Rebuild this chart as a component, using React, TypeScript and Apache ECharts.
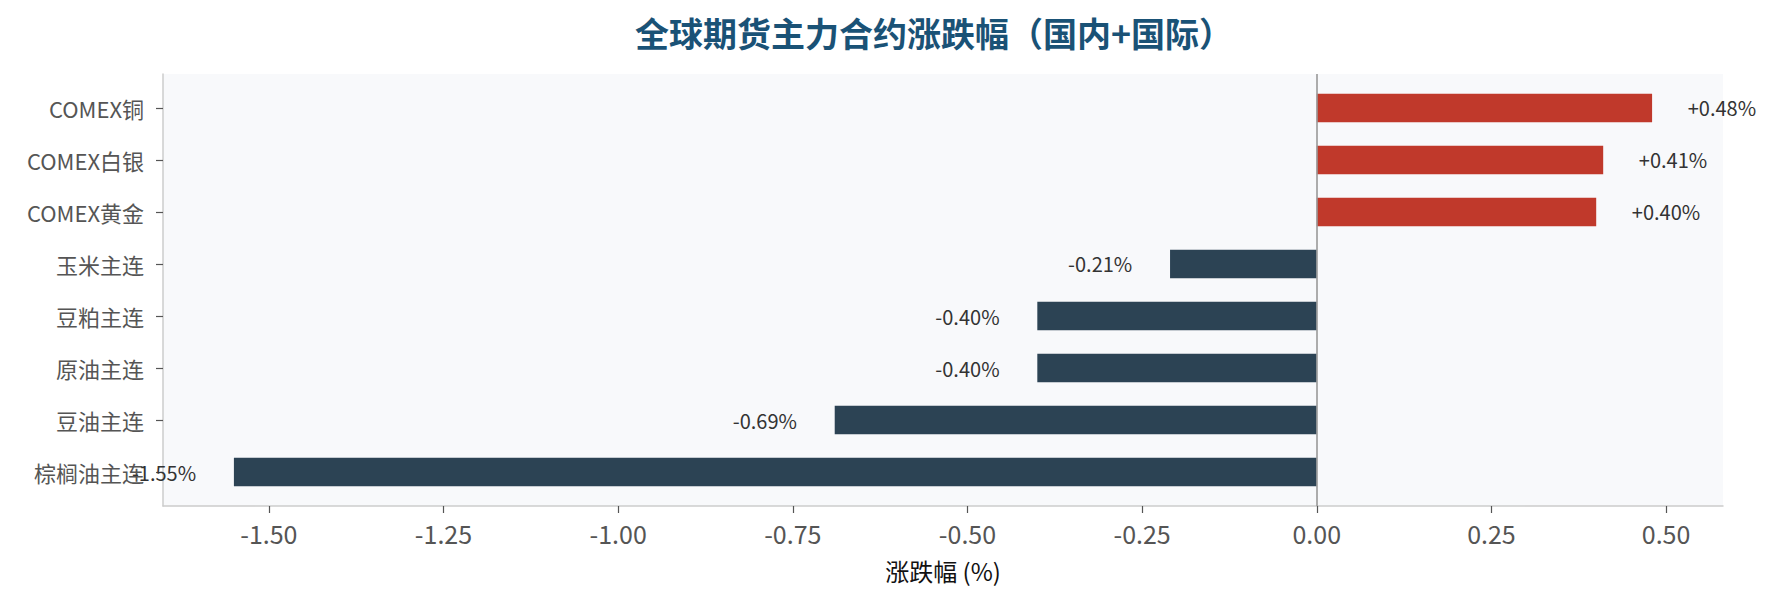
import React, { useEffect, useRef } from "react";
import * as echarts from "echarts";

const CATEGORIES = ["COMEX铜", "COMEX白银", "COMEX黄金", "玉米主连", "豆粕主连", "原油主连", "豆油主连", "棕榈油主连"];
const CHANGES = [0.48, 0.41, 0.4, -0.21, -0.4, -0.4, -0.69, -1.55];
const X_TICKS = [-1.5, -1.25, -1.0, -0.75, -0.5, -0.25, 0.0, 0.25, 0.5];
const TITLE = "全球期货主力合约涨跌幅（国内+国际）";
const X_NAME = "涨跌幅 (%)";

const FONT = "'Noto Sans CJK SC', 'Noto Sans', sans-serif";
const RED = "#c0392b";
const DARK = "#2c4354";
const BAR_H = 0.55;
const LABEL_OFF = 0.1;

const fmt = (v: number) => (v >= 0 ? "+" : "") + v.toFixed(2) + "%";

export default function App() {
  const ref = useRef<HTMLDivElement>(null);
  useEffect(() => {
    if (!ref.current) return;
    const chart = echarts.init(ref.current, undefined, { renderer: "svg" });
    const data = CHANGES.map((v, i) => [v, i]);
    const yIdx = CATEGORIES.map((_, i) => i);
    chart.setOption({
      animation: false,
      backgroundColor: "#ffffff",
      textStyle: { fontFamily: FONT },
      graphic: [
        {
          type: "text",
          x: 934,
          y: 32,
          style: {
            text: TITLE,
            align: "center",
            verticalAlign: "middle",
            fontFamily: FONT,
            fontSize: 34,
            fontWeight: "bold",
            fill: "#1a5276",
          },
        },
      ],
      grid: {
        left: 163,
        right: 54,
        top: 74,
        bottom: 98,
        show: true,
        backgroundColor: "#f8f9fb",
        borderWidth: 0,
      },
      xAxis: {
        type: "value",
        min: -1.6515,
        max: 0.5815,
        name: X_NAME,
        nameLocation: "middle",
        nameGap: 52,
        nameTextStyle: { fontFamily: FONT, fontSize: 24, color: "#111" },
        axisLine: { show: true, onZero: false, lineStyle: { color: "#cccccc", width: 1.5 } },
        axisTick: { show: true, length: 7, customValues: X_TICKS, lineStyle: { color: "#555", width: 1.2 } },
        axisLabel: {
          customValues: X_TICKS,
          formatter: (v: number) => v.toFixed(2),
          fontFamily: FONT,
          fontSize: 25,
          color: "#555",
          margin: 14,
        },
        splitLine: { show: false },
      },
      yAxis: {
        type: "value",
        inverse: true,
        min: -0.6525,
        max: 7.6525,
        axisLine: { show: true, onZero: false, lineStyle: { color: "#cccccc", width: 1.5 } },
        axisTick: { show: true, length: 7, customValues: yIdx, lineStyle: { color: "#555", width: 1.2 } },
        axisLabel: {
          customValues: yIdx,
          formatter: (v: number) => CATEGORIES[Math.round(v)] ?? "",
          fontFamily: FONT,
          fontSize: 22,
          color: "#555",
          margin: 19,
        },
        splitLine: { show: false },
      },
      series: [
        {
          type: "custom",
          data,
          encode: { x: 0, y: 1 },
          renderItem: (params: any, api: any) => {
            const v = api.value(0) as number;
            const idx = api.value(1) as number;
            const s = api.coord([0, idx]);
            const e = api.coord([v, idx]);
            const h = Math.abs(api.size([0, BAR_H])[1]);
            const lab = api.coord([v + (v >= 0 ? LABEL_OFF : -LABEL_OFF), idx]);
            return {
              type: "group",
              children: [
                {
                  type: "rect",
                  shape: { x: Math.min(s[0], e[0]), y: s[1] - h / 2, width: Math.abs(e[0] - s[0]), height: h },
                  style: { fill: v >= 0 ? RED : DARK },
                },
                {
                  type: "text",
                  style: {
                    text: fmt(v),
                    x: lab[0],
                    y: lab[1],
                    align: "center",
                    verticalAlign: "middle",
                    fontFamily: FONT,
                    fontSize: 20,
                    fill: "#333",
                  },
                },
              ],
            };
          },
          markLine: {
            silent: true,
            symbol: ["none", "none"],
            label: { show: false },
            lineStyle: { color: "#999", width: 1.6, type: "solid" },
            data: [{ xAxis: 0 }],
          },
        },
      ],
    });
    return () => chart.dispose();
  }, []);
  return <div ref={ref} style={{ position: "fixed", left: 0, top: 0, width: 1777, height: 604 }} />;
}
